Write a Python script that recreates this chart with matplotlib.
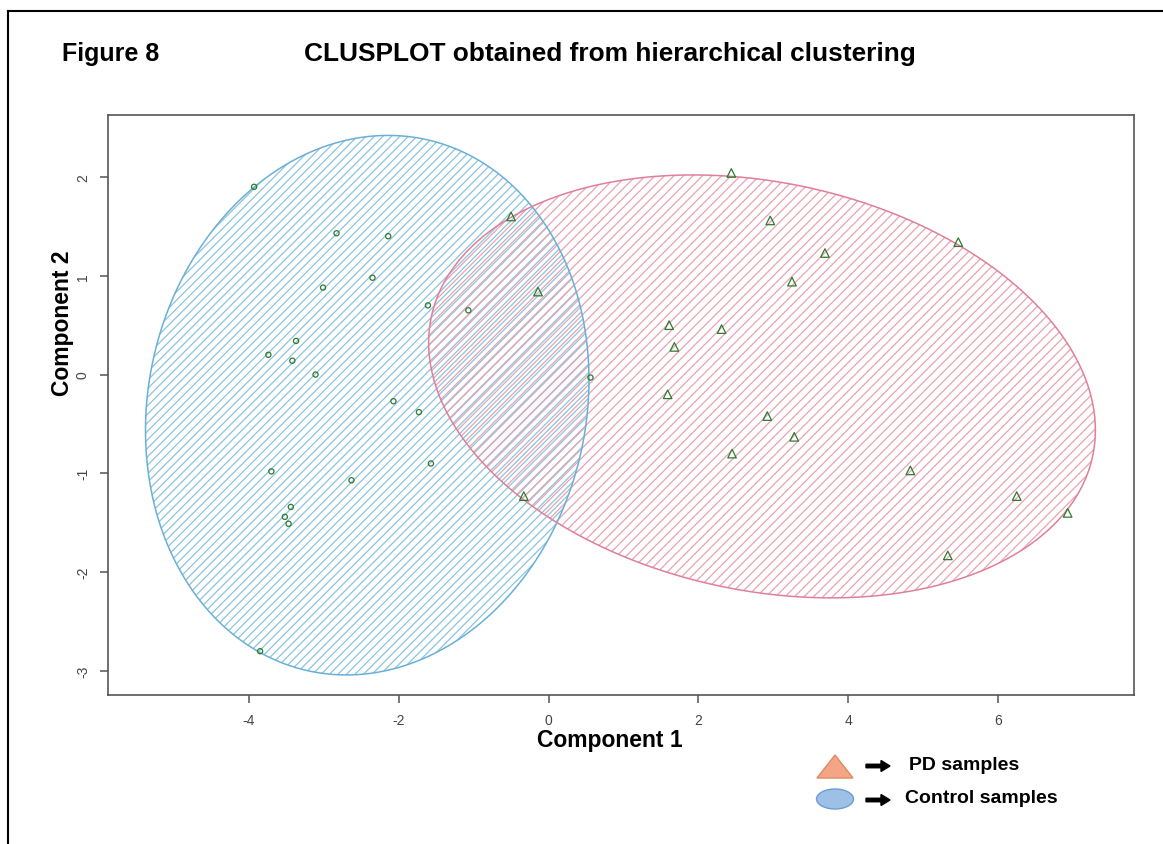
import numpy as np
import matplotlib
matplotlib.use('Agg')
import matplotlib.pyplot as plt
from matplotlib.patches import Polygon, Ellipse, FancyArrow
from matplotlib.lines import Line2D

plt.rcParams['font.family'] = ['Liberation Sans', 'DejaVu Sans']

# control samples (circles)
ctrl_x = [-3.93, -2.83, -2.14, -2.35, -3.01, -1.61, -3.37, -3.74, -3.42, -3.11,
          -2.07, -1.73, -1.57, -3.70, -2.63, -3.44, -3.52, -3.47, -3.85, -1.07, 0.56]
ctrl_y = [1.90, 1.43, 1.40, 0.98, 0.88, 0.70, 0.34, 0.20, 0.14, 0.00,
          -0.27, -0.38, -0.90, -0.98, -1.07, -1.34, -1.44, -1.51, -2.80, 0.65, -0.03]

# PD samples (triangles)
pd_x = [-0.50, -0.14, 2.44, 1.61, 2.31, 1.68, 1.59, 2.92, 2.45, -0.33,
        2.96, 3.69, 3.25, 5.47, 3.28, 4.83, 6.25, 6.93, 5.33]
pd_y = [1.60, 0.84, 2.04, 0.50, 0.46, 0.28, -0.20, -0.42, -0.80, -1.23,
        1.56, 1.23, 0.94, 1.34, -0.63, -0.97, -1.23, -1.40, -1.83]

# cluster ellipses: centre, half width, half height, covariance term
ell_ctrl = dict(cx=-2.42, cy=-0.31, w=2.96, h=2.73, sxy=0.76)
ell_pd = dict(cx=2.85, cy=-0.12, w=4.45, h=2.14, sxy=-1.97)

xticks = [-4, -2, 0, 2, 4, 6]
yticks = [-3, -2, -1, 0, 1, 2]


def ellipse_points(e, n=400):
    m = np.array([[e['w'] ** 2, e['sxy']], [e['sxy'], e['h'] ** 2]])
    L = np.linalg.cholesky(m)
    t = np.linspace(0, 2 * np.pi, n)
    pts = L @ np.vstack([np.cos(t), np.sin(t)])
    return np.column_stack([pts[0] + e['cx'], pts[1] + e['cy']])


def hatch_ellipse(ax, e, line_col, edge_col, spacing, W, H):
    pts = ellipse_points(e)
    clip = Polygon(pts, closed=True, facecolor='none', edgecolor='none',
                   transform=ax.transData)
    ax.add_patch(clip)
    # 45 degree lines in pixel space, drawn in axes fraction
    for c in np.arange(-W, H + W, spacing):
        x0, x1 = -0.1, 1.1
        y0 = (x0 * W + c) / H
        y1 = (x1 * W + c) / H
        ln, = ax.plot([x0, x1], [y0, y1], transform=ax.transAxes,
                      color=line_col, lw=0.9, zorder=2)
        ln.set_clip_path(clip)
    ax.add_patch(Polygon(pts, closed=True, facecolor='none',
                         edgecolor=edge_col, lw=1.1, zorder=3))


fig = plt.figure(figsize=(11.63, 8.45), dpi=100)
ax = fig.add_axes([0.0929, 0.1767, 0.8818, 0.6864])
W = 0.8818 * 1163
H = 0.6864 * 845

ax.set_xlim(-5.88, 7.81)
ax.set_ylim(-3.24, 2.63)

hatch_ellipse(ax, ell_ctrl, '#8cc4dc', '#6ab0d6', 8.5, W, H)
hatch_ellipse(ax, ell_pd, '#e9a3b3', '#df8098', 9.5, W, H)

ax.scatter(ctrl_x, ctrl_y, marker='o', s=14, facecolors='none',
           edgecolors='#2f7a2f', linewidths=0.9, zorder=5)
ax.scatter(pd_x, pd_y, marker='^', s=38, facecolors='none',
           edgecolors='#2f7a2f', linewidths=0.9, zorder=5)

for s in ax.spines.values():
    s.set_color('#555555')
    s.set_linewidth(1.2)
ax.set_xticks(xticks)
ax.set_yticks(yticks)
ax.set_xticklabels([str(v) for v in xticks])
ax.set_yticklabels([str(v) for v in yticks], rotation=90, va='center')
ax.tick_params(colors='#555555', labelcolor='#444444', labelsize=10,
               length=6, width=1.1, pad=7)

fig.text(0.053, 0.936, 'Figure 8', fontsize=18, fontweight='bold', va='center')
fig.text(0.524, 0.936, 'CLUSPLOT obtained from hierarchical clustering',
         fontsize=18.9, fontweight='bold', va='center', ha='center')
fig.text(0.524, 0.124, 'Component 1', fontsize=16.5, fontweight='bold',
         va='center', ha='center')
fig.text(0.054, 0.617, 'Component 2', fontsize=16.5, fontweight='bold',
         va='center', ha='center', rotation=90)

# legend drawn as in the figure
lg = fig.add_axes([0, 0, 1, 1], facecolor='none')
lg.set_xlim(0, 1163)
lg.set_ylim(845, 0)
lg.axis('off')
lg.add_patch(Polygon([[817, 779], [853, 779], [835, 756]], closed=True,
                     facecolor='#f4a585', edgecolor='#e08a64', lw=1))
lg.add_patch(Ellipse((835, 800), 37, 20, facecolor='#9dc0e6',
                     edgecolor='#6f9bd3', lw=1))
for yy in [767, 801]:
    lg.add_patch(FancyArrow(866, yy, 24, 0, width=3.5, head_width=11,
                            head_length=9, length_includes_head=True,
                            color='black'))
lg.text(909, 766, 'PD samples', fontsize=14, fontweight='bold', va='center')
lg.text(905, 799, 'Control samples', fontsize=14, fontweight='bold',
        va='center')

# page border (left and top)
fig.add_artist(Line2D([8 / 1163, 8 / 1163], [0, 1 - 12 / 845], color='black',
                      lw=1.5, transform=fig.transFigure))
fig.add_artist(Line2D([8 / 1163, 1], [1 - 12 / 845, 1 - 12 / 845],
                      color='black', lw=1.5, transform=fig.transFigure))

fig.savefig('out.png', dpi=100)
